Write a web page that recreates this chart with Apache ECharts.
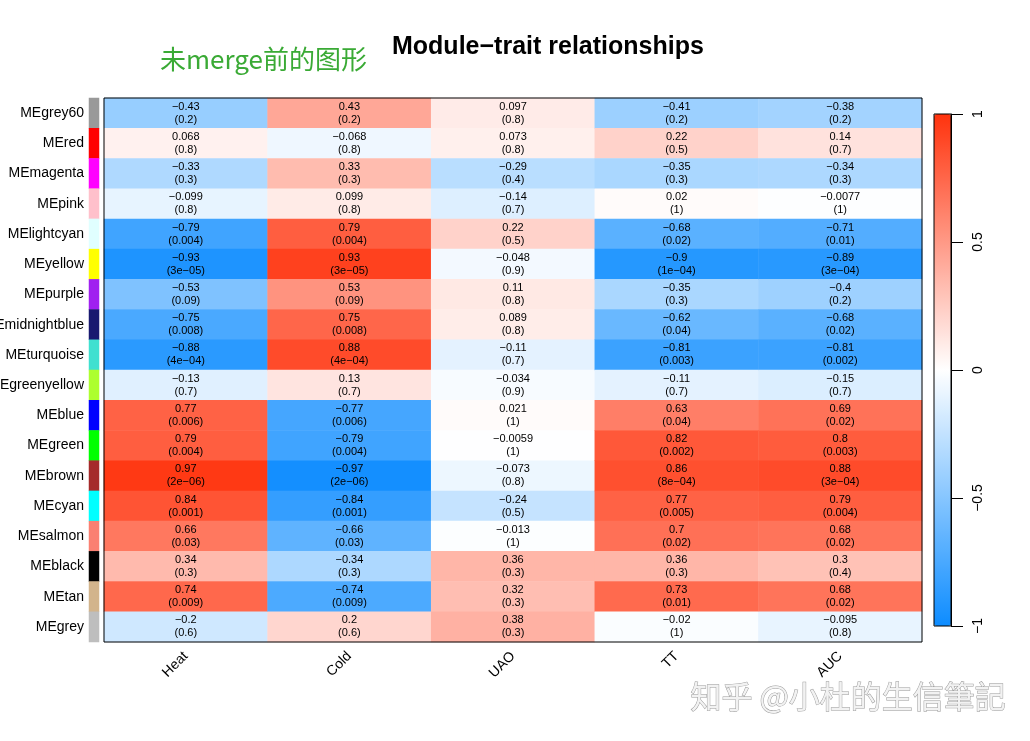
<!DOCTYPE html>
<html>
<head>
<meta charset="utf-8">
<script src="https://cdn.jsdelivr.net/npm/echarts@6/dist/echarts.min.js"></script>
<style>
  html, body { margin: 0; padding: 0; background: #fff; }
  #main { width: 1030px; height: 741px; }
</style>
</head>
<body>
<div id="main"></div>
<script>
// 模块名称 / 模块颜色
const modules = ['MEgrey60', 'MEred', 'MEmagenta', 'MEpink', 'MElightcyan', 'MEyellow', 'MEpurple',
  'MEmidnightblue', 'MEturquoise', 'MEgreenyellow', 'MEblue', 'MEgreen', 'MEbrown', 'MEcyan',
  'MEsalmon', 'MEblack', 'MEtan', 'MEgrey'];
const moduleColors = ['#999999', '#ff0000', '#ff00ff', '#ffc0cb', '#e0ffff', '#ffff00', '#a020f0',
  '#191970', '#40e0d0', '#adff2f', '#0000ff', '#00ff00', '#a52a2a', '#00ffff',
  '#fa8072', '#000000', '#d2b48c', '#bebebe'];
const traits = ['Heat', 'Cold', 'UAO', 'TT', 'AUC'];

// 相关系数（每个性状一列）
const corHeat = [-0.43, 0.068, -0.33, -0.099, -0.79, -0.93, -0.53, -0.75, -0.88, -0.13, 0.77, 0.79, 0.97, 0.84, 0.66, 0.34, 0.74, -0.2];
const corCold = [0.43, -0.068, 0.33, 0.099, 0.79, 0.93, 0.53, 0.75, 0.88, 0.13, -0.77, -0.79, -0.97, -0.84, -0.66, -0.34, -0.74, 0.2];
const corUAO = [0.097, 0.073, -0.29, -0.14, 0.22, -0.048, 0.11, 0.089, -0.11, -0.034, 0.021, -0.0059, -0.073, -0.24, -0.013, 0.36, 0.32, 0.38];
const corTT = [-0.41, 0.22, -0.35, 0.02, -0.68, -0.9, -0.35, -0.62, -0.81, -0.11, 0.63, 0.82, 0.86, 0.77, 0.7, 0.36, 0.73, -0.02];
const corAUC = [-0.38, 0.14, -0.34, -0.0077, -0.71, -0.89, -0.4, -0.68, -0.81, -0.15, 0.69, 0.8, 0.88, 0.79, 0.68, 0.3, 0.68, -0.095];

// p 值
const pHeat = ['0.2', '0.8', '0.3', '0.8', '0.004', '3e-05', '0.09', '0.008', '4e-04', '0.7', '0.006', '0.004', '2e-06', '0.001', '0.03', '0.3', '0.009', '0.6'];
const pCold = ['0.2', '0.8', '0.3', '0.8', '0.004', '3e-05', '0.09', '0.008', '4e-04', '0.7', '0.006', '0.004', '2e-06', '0.001', '0.03', '0.3', '0.009', '0.6'];
const pUAO = ['0.8', '0.8', '0.4', '0.7', '0.5', '0.9', '0.8', '0.8', '0.7', '0.9', '1', '1', '0.8', '0.5', '1', '0.3', '0.3', '0.3'];
const pTT = ['0.2', '0.5', '0.3', '1', '0.02', '1e-04', '0.3', '0.04', '0.003', '0.7', '0.04', '0.002', '8e-04', '0.005', '0.02', '0.3', '0.01', '1'];
const pAUC = ['0.2', '0.7', '0.3', '1', '0.01', '3e-04', '0.2', '0.02', '0.002', '0.7', '0.02', '0.003', '3e-04', '0.004', '0.02', '0.4', '0.02', '0.8'];

const corCols = [corHeat, corCold, corUAO, corTT, corAUC];
const pCols = [pHeat, pCold, pUAO, pTT, pAUC];

// R 风格的负号
function rMinus(s) { return String(s).replace(/-/g, '\u2212'); }

const heatData = [];
corCols.forEach((col, x) => {
  col.forEach((v, y) => {
    heatData.push({ value: [x, y, v], p: pCols[x][y] });
  });
});
const colorBlockData = modules.map((m, i) => ({ value: [0, i, i], itemStyle: { color: moduleColors[i] } }));

const FONT = 'Liberation Sans, Arial, sans-serif';
const myChart = echarts.init(document.getElementById('main'));
const option = {
  backgroundColor: '#fff',
  animation: false,
  textStyle: { fontFamily: FONT },
  title: {
    text: 'Module\u2212trait relationships',
    left: 387, top: 30,
    textStyle: { fontSize: 25, fontWeight: 'bold', color: '#000', fontFamily: FONT }
  },
  grid: [
    { left: 104, top: 98, width: 818, height: 544, outerBoundsMode: 'none', containLabel: false, show: true, borderColor: '#000', borderWidth: 1, backgroundColor: 'transparent', z: 3 },
    { left: 89, top: 98, width: 10, height: 544, outerBoundsMode: 'none', containLabel: false },
    { left: 934, top: 114, width: 17, height: 512, outerBoundsMode: 'none', containLabel: false, show: true, borderColor: '#000', borderWidth: 1, backgroundColor: 'transparent', z: 10 }
  ],
  xAxis: [
    {
      gridIndex: 0, type: 'category', data: traits,
      axisLine: { show: false }, axisTick: { show: false },
      axisLabel: { rotate: 45, margin: 12, fontSize: 14, color: '#000' },
      splitLine: { show: false }
    },
    { gridIndex: 1, type: 'category', data: ['c'], show: false },
    { gridIndex: 2, type: 'category', data: ['bar'], show: false }
  ],
  yAxis: [
    {
      gridIndex: 0, type: 'category', data: modules, inverse: true,
      axisLine: { show: false }, axisTick: { show: false }, axisLabel: { show: false }
    },
    {
      gridIndex: 1, type: 'category', data: modules, inverse: true,
      axisLine: { show: false }, axisTick: { show: false },
      axisLabel: { fontSize: 14, color: '#000', margin: 5 }
    },
    {
      gridIndex: 2, type: 'value', min: -1, max: 1, interval: 0.5, position: 'right',
      z: 12,
      axisLine: { show: true, onZero: false, lineStyle: { color: '#000', width: 1 } },
      axisTick: { show: true, inside: false, length: 12, lineStyle: { color: '#000', width: 1 } },
      axisLabel: { rotate: 90, margin: 20, fontSize: 14, color: '#000', formatter: v => rMinus(v) },
      splitLine: { show: false }
    }
  ],
  visualMap: {
    type: 'continuous',
    seriesIndex: 0,
    min: -1, max: 1,
    left: 934, top: 114,
    itemWidth: 17, itemHeight: 512,
    padding: 0,
    calculable: false,
    hoverLink: false,
    inRange: { color: ['#0d8cff', '#ffffff', '#ff330d'] }
  },
  series: [
    {
      type: 'heatmap',
      xAxisIndex: 0, yAxisIndex: 0,
      data: heatData,
      label: {
        show: true,
        fontSize: 11,
        lineHeight: 13,
        color: '#000',
        formatter: p => rMinus(p.data.value[2]) + '\n(' + rMinus(p.data.p) + ')'
      },
      emphasis: { disabled: true }
    },
    {
      type: 'heatmap',
      xAxisIndex: 1, yAxisIndex: 1,
      data: colorBlockData,
      emphasis: { disabled: true }
    }
  ],
  graphic: [
    {
      type: 'text', left: 160, top: 46,
      style: { text: '未merge前的图形', fontSize: 26, fill: '#3aaa35', fontFamily: 'Noto Sans CJK SC' }
    },
    {
      type: 'text', left: 690, top: 680,
      style: {
        text: '知乎 @小杜的生信筆記', fontSize: 31, fill: '#f2f2f2',
        stroke: '#9a9a9a', lineWidth: 1, fontFamily: 'Noto Sans CJK SC'
      }
    }
  ]
};
myChart.setOption(option);
window.onresize = function () {
  myChart.resize();
};
</script>
</body>
</html>
